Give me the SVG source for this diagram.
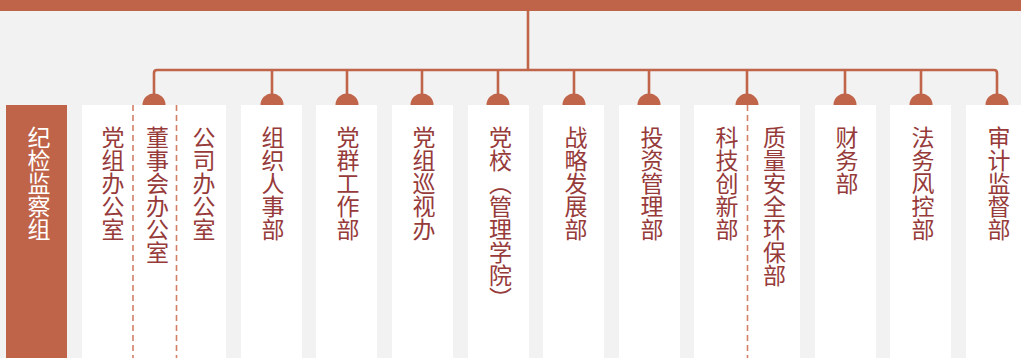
<svg xmlns="http://www.w3.org/2000/svg" width="1021" height="358" viewBox="0 0 1021 358">
<defs>
<style>
.box{fill:#ffffff}
.boxo{fill:#BF6449}
.ln{fill:none;stroke:#C0654A;stroke-width:2.6}
.cap{fill:#C0654A}
.dash{fill:none;stroke:#D27F66;stroke-width:1.6;stroke-dasharray:6 4}
.t{font-family:"Noto Sans CJK SC","Noto Sans",sans-serif;font-size:23px;fill:#963A3A;writing-mode:vertical-rl;text-orientation:mixed}
.tw{fill:#ffffff}
</style>
</defs>
<rect x="0" y="0" width="1021" height="358" fill="#F2F2F2"/>
<rect x="0" y="0" width="1021" height="11" fill="#BF6449"/>
<g id="connectors">
<path class="ln" d="M528,11 V70"/>
<path class="ln" d="M154,94 V73 Q154,70 157,70 H994 Q997,70 997,73 V94"/>
<path class="ln" d="M272,70 V94 M347,70 V94 M422,70 V94 M498,70 V94 M574,70 V94 M649,70 V94 M747,70 V94 M845,70 V94 M921,70 V94"/>
</g>
<g id="caps">
<path class="cap" d="M142.5,105 A11.5,11.5 0 0 1 165.5,105 Z"/>
<path class="cap" d="M260.5,105 A11.5,11.5 0 0 1 283.5,105 Z"/>
<path class="cap" d="M335.5,105 A11.5,11.5 0 0 1 358.5,105 Z"/>
<path class="cap" d="M410.5,105 A11.5,11.5 0 0 1 433.5,105 Z"/>
<path class="cap" d="M486.5,105 A11.5,11.5 0 0 1 509.5,105 Z"/>
<path class="cap" d="M562.5,105 A11.5,11.5 0 0 1 585.5,105 Z"/>
<path class="cap" d="M637.5,105 A11.5,11.5 0 0 1 660.5,105 Z"/>
<path class="cap" d="M735.5,105 A11.5,11.5 0 0 1 758.5,105 Z"/>
<path class="cap" d="M833.5,105 A11.5,11.5 0 0 1 856.5,105 Z"/>
<path class="cap" d="M909.5,105 A11.5,11.5 0 0 1 932.5,105 Z"/>
<path class="cap" d="M985.5,105 A11.5,11.5 0 0 1 1008.5,105 Z"/>
</g>
<g id="node-jijian">
<rect class="boxo" x="6" y="105" width="61" height="253"/>
<text class="t tw" x="39" y="126">纪检监察组</text>
</g>
<g id="node-office">
<rect class="box" x="82" y="105" width="144" height="253"/>
<line class="dash" x1="133" y1="105" x2="133" y2="358"/>
<line class="dash" x1="176.5" y1="105" x2="176.5" y2="358"/>
<text class="t" x="113" y="126">党组办公室</text>
<text class="t" x="157.5" y="126">董事会办公室</text>
<text class="t" x="204" y="126">公司办公室</text>
</g>
<g id="node-zuzhi">
<rect class="box" x="241" y="105" width="61" height="253"/>
<text class="t" x="273" y="126">组织人事部</text>
</g>
<g id="node-dangqun">
<rect class="box" x="316" y="105" width="61" height="253"/>
<text class="t" x="348" y="126">党群工作部</text>
</g>
<g id="node-xunshi">
<rect class="box" x="392" y="105" width="61" height="253"/>
<text class="t" x="424" y="126">党组巡视办</text>
</g>
<g id="node-dangxiao">
<rect class="box" x="468" y="105" width="61" height="253"/>
<text class="t" x="500.5" y="126">党校（管理学院）</text>
</g>
<g id="node-zhanlue">
<rect class="box" x="543" y="105" width="61" height="253"/>
<text class="t" x="576" y="126">战略发展部</text>
</g>
<g id="node-touzi">
<rect class="box" x="619" y="105" width="61" height="253"/>
<text class="t" x="652" y="126">投资管理部</text>
</g>
<g id="node-keji">
<rect class="box" x="694" y="105" width="106" height="253"/>
<line class="dash" x1="747.5" y1="105" x2="747.5" y2="358"/>
<text class="t" x="727" y="126">科技创新部</text>
<text class="t" x="774.5" y="126">质量安全环保部</text>
</g>
<g id="node-caiwu">
<rect class="box" x="815" y="105" width="61" height="253"/>
<text class="t" x="847" y="126">财务部</text>
</g>
<g id="node-fawu">
<rect class="box" x="890" y="105" width="61" height="253"/>
<text class="t" x="923" y="126">法务风控部</text>
</g>
<g id="node-shenji">
<rect class="box" x="966" y="105" width="61" height="253"/>
<text class="t" x="999" y="126">审计监督部</text>
</g>
</svg>
